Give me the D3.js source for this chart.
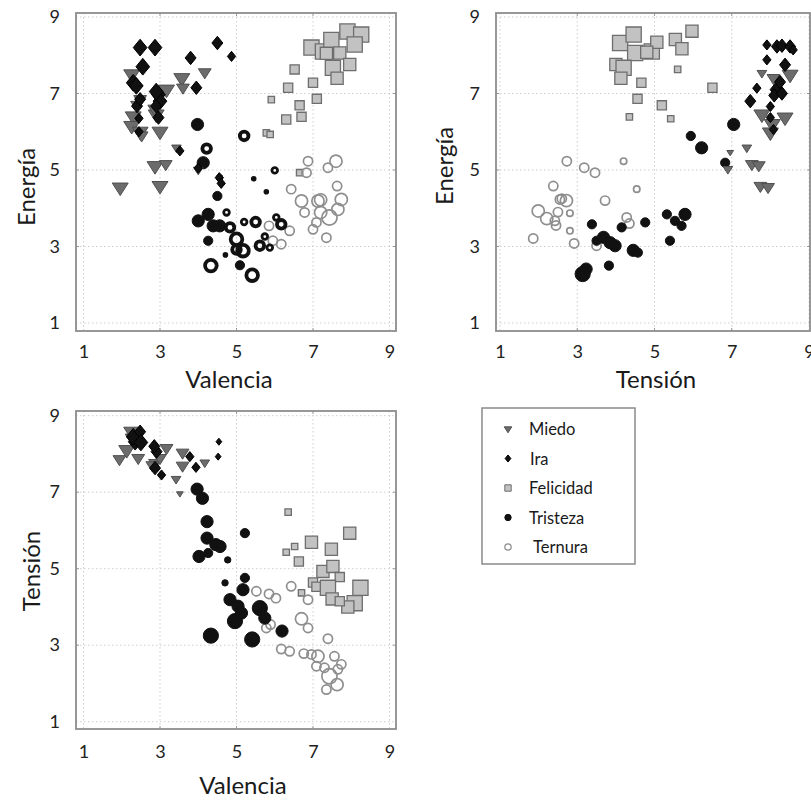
<!DOCTYPE html>
<html><head><meta charset="utf-8">
<script src="https://cdn.jsdelivr.net/npm/d3@7"></script>
<style>body{margin:0;background:#fff}svg{display:block;font-family:Lato,"Open Sans",sans-serif}</style>
</head><body><svg id="c" width="811" height="807"></svg>
<script>
// ---------- DATA: [x, y, size(1-4)] ; Tristeza panel 1 adds hollow flag ----------
const tickValues = [1, 3, 5, 7, 9];
const categories = ["Miedo", "Ira", "Felicidad", "Tristeza", "Ternura"];
const axisNames = ["Valencia", "Energía", "Tensión"];

// Panel 1: Valencia (x) vs Energía (y)
const vaMiedo = [[1.96,4.54,4],[3.0,4.58,4],[2.87,5.1,4],[3.15,5.15,3],[2.26,7.5,4],[2.3,6.4,4],[2.26,6.15,4],[2.48,6.0,4],[2.52,5.9,3],[2.9,6.45,4],[3.0,6.0,4],[3.17,7.1,4],[3.57,7.4,4],[3.6,7.15,3],[4.17,7.55,3],[2.48,6.85,3],[3.43,5.58,2],[4.0,5.0,2],[2.85,6.6,3],[2.4,6.7,3]];
const vaIra = [[2.48,8.2,4],[2.87,8.2,4],[2.55,7.7,4],[2.3,7.28,4],[2.38,7.2,4],[2.96,6.97,4],[3.0,6.8,4],[2.9,6.67,3],[2.4,6.67,3],[2.48,6.85,3],[2.96,6.37,3],[3.8,7.93,3],[3.95,7.15,3],[4.5,8.32,3],[4.87,7.97,2],[3.52,5.5,2],[4.55,4.8,2],[4.6,4.65,2],[4.0,5.05,2],[2.9,7.05,4],[2.45,6.35,2],[2.45,6.0,2]];
const vaFelicidad = [[6.96,8.2,4],[7.26,8.1,4],[7.48,8.4,4],[7.9,8.62,4],[8.26,8.54,4],[8.09,8.28,4],[7.7,8.06,3],[7.52,7.67,4],[7.96,7.76,3],[7.63,7.4,3],[7.35,8.05,3],[6.52,7.63,2],[6.35,7.15,2],[7.0,7.28,2],[5.91,6.84,1],[6.65,6.69,2],[7.1,6.86,2],[6.3,6.32,2],[6.7,6.39,2],[5.78,5.97,1],[5.88,5.93,1],[6.65,4.93,1]];
const vaTristeza = [[3.98,6.19,3,0],[5.2,5.89,3,1],[4.22,5.56,3,1],[4.13,5.19,3,0],[4.56,4.8,1,0],[4.5,4.32,2,0],[5.45,4.77,1,1],[6.0,4.99,2,1],[5.78,4.43,1,1],[4.0,3.67,3,0],[4.26,3.84,3,0],[4.39,3.54,3,0],[4.56,3.54,3,0],[4.74,3.89,2,1],[4.83,3.5,3,1],[5.2,3.64,2,1],[5.5,3.64,3,1],[5.0,3.19,4,1],[5.17,2.89,4,1],[5.0,2.92,3,1],[4.26,3.15,2,0],[4.71,2.78,1,1],[4.33,2.5,4,1],[5.09,2.51,2,0],[5.41,2.25,4,1],[5.61,3.02,3,1],[5.74,3.26,2,1],[5.87,2.97,2,1],[6.04,3.76,2,1],[6.17,3.58,3,1]];
const vaTernura = [[6.87,5.23,2],[6.83,4.93,2],[7.39,5.06,2],[7.6,5.23,3],[6.43,4.5,2],[6.7,4.19,3],[7.13,4.19,3],[7.2,4.22,3],[7.63,4.58,2],[7.74,4.23,3],[6.78,3.89,2],[7.2,3.89,3],[7.65,3.97,3],[7.43,3.76,4],[7.09,3.63,2],[7.0,3.45,2],[7.35,3.23,2],[6.39,3.41,2],[6.17,3.06,2],[5.85,3.54,2],[5.95,3.15,2]];

// Panel 2: Tensión (x) vs Energía (y)
const teMiedo = [[7.78,7.53,2],[8.51,7.49,4],[8.08,7.4,3],[7.78,6.45,4],[8.38,6.37,4],[8.0,5.98,4],[8.05,6.2,4],[7.39,5.58,2],[6.96,5.46,1],[7.52,5.15,3],[7.7,5.12,3],[6.9,5.02,2],[7.74,4.58,3],[7.94,4.55,3]];
const teIra = [[7.91,8.27,2],[8.17,8.23,3],[8.3,8.25,3],[8.51,8.23,3],[8.59,8.14,2],[7.91,7.88,2],[8.38,7.75,3],[7.65,7.14,2],[7.48,6.8,3],[8.17,7.1,4],[8.25,7.3,3],[8.1,6.95,3],[8.0,6.66,2],[8.0,6.37,2],[8.08,6.06,2],[8.3,7.0,3]];
const teFelicidad = [[4.11,8.32,4],[4.46,8.54,4],[4.5,8.06,4],[4.93,8.1,4],[5.06,8.34,3],[5.54,8.41,3],[5.71,8.17,3],[5.97,8.63,3],[4.8,8.08,3],[4.0,7.76,3],[4.2,7.67,4],[4.13,7.4,3],[4.66,7.28,2],[4.56,6.86,2],[5.6,7.63,1],[5.19,6.69,2],[5.42,6.34,1],[4.35,6.39,1],[6.5,7.15,2]];
const teTristeza = [[7.05,6.19,3],[6.22,5.58,3],[5.94,5.89,2],[6.83,5.19,2],[3.38,3.58,2],[3.68,3.24,3],[3.98,3.02,3],[3.85,3.1,3],[4.45,2.9,3],[4.57,2.84,2],[4.15,3.5,2],[4.76,3.63,2],[5.4,3.15,2],[5.32,3.84,2],[5.53,3.67,2],[5.79,3.84,3],[5.7,3.54,2],[3.23,2.41,3],[3.14,2.28,4],[3.82,2.5,2],[3.5,3.15,2]];
const teTernura = [[2.73,5.23,2],[3.18,5.06,2],[3.46,4.93,2],[4.2,5.23,1],[4.54,4.5,1],[2.38,4.58,2],[2.55,4.23,2],[2.72,4.2,3],[3.72,4.2,2],[1.99,3.93,3],[2.21,3.73,3],[2.42,3.67,2],[2.5,3.9,2],[2.81,3.87,1],[2.81,3.41,1],[1.86,3.21,2],[2.92,3.08,2],[4.28,3.76,2],[4.35,3.6,2],[3.5,3.02,2],[2.6,4.25,2],[2.45,3.55,2]];

// Panel 3: Valencia (x) vs Tensión (y)
const vtMiedo = [[1.94,7.86,3],[2.26,8.58,4],[2.43,7.89,3],[2.13,8.1,4],[2.87,7.76,3],[3.17,8.15,3],[3.59,8.03,3],[3.59,7.69,3],[3.42,7.34,2],[3.52,6.96,1],[4.17,7.77,2],[3.0,7.89,3],[2.3,8.4,4],[2.8,7.7,3]];
const vtIra = [[2.35,8.32,4],[2.3,8.45,4],[2.48,8.58,3],[2.91,8.06,3],[2.85,8.2,3],[3.04,7.45,2],[2.87,7.63,3],[3.78,7.93,2],[3.94,7.65,2],[4.54,8.32,1],[4.52,7.93,1],[2.5,8.3,4]];
const vtFelicidad = [[6.35,6.48,1],[6.96,5.69,3],[7.48,5.51,3],[7.96,5.93,3],[6.52,5.58,1],[6.3,5.43,1],[6.63,5.19,2],[7.26,4.93,3],[7.52,5.06,3],[7.7,4.78,2],[7.0,4.64,2],[7.09,4.53,2],[7.39,4.5,4],[7.5,4.21,3],[8.24,4.5,4],[8.09,4.1,4],[7.91,4.0,3],[7.7,4.15,2],[6.7,4.37,1]];
const vtTristeza = [[3.97,7.08,3],[4.11,6.84,3],[4.23,6.23,3],[4.23,5.8,3],[4.46,5.63,3],[4.57,5.58,3],[4.02,5.32,3],[4.26,5.41,2],[5.22,5.93,2],[4.77,5.23,1],[4.7,4.63,1],[5.22,4.76,2],[5.17,4.45,3],[4.83,4.19,3],[5.04,4.02,3],[4.96,3.63,4],[5.13,3.84,3],[4.33,3.25,4],[5.41,3.15,4],[5.61,3.97,4],[5.74,3.71,3],[6.19,3.37,3]];
const vtTernura = [[5.52,4.41,2],[5.85,4.34,2],[6.03,4.23,2],[6.43,4.54,2],[6.87,4.19,2],[6.7,3.69,3],[6.87,3.45,2],[7.39,3.17,2],[6.17,2.9,2],[6.39,2.84,2],[6.76,2.78,2],[6.96,2.76,2],[7.13,2.71,3],[7.09,2.45,2],[7.3,2.41,2],[7.56,2.71,2],[7.65,2.37,2],[7.74,2.5,2],[7.43,2.19,4],[7.63,1.97,3],[7.35,1.84,2],[5.78,3.45,2],[5.89,3.54,2]];

// ---------- STYLE / LAYOUT ----------
const svg = d3.select("#c");
const rad = {1:3.2, 2:4.6, 3:6.1, 4:7.6};
const style = {
  Miedo:    {fill:"#6c6c6c", stroke:"#4f4f4f", sw:1},
  Ira:      {fill:"#111", stroke:"#000", sw:1},
  Felicidad:{fill:"#c2c2c2", stroke:"#6e6e6e", sw:1.3},
  Tristeza: {fill:"#111", stroke:"#111", sw:1},
  Ternura:  {fill:"none", stroke:"#8e8e8e", sw:1.7}
};
function shapePath(cat, r) {
  if (cat === "Miedo") { const w = r*1.05; return `M${-w},${-0.6*r}L${w},${-0.6*r}L0,${1.05*r}Z`; }
  if (cat === "Ira") { const w = r*0.9, h = r*1.1; return `M0,${-h}L${w},0L0,${h}L${-w},0Z`; }
  if (cat === "Felicidad") { return `M${-r},${-r}h${2*r}v${2*r}h${-2*r}Z`; }
  const p = d3.path(); p.arc(0, 0, r, 0, 2*Math.PI); return p.toString();
}

const panels = [
  {xr:[83.5,389.5], yr:[323,17], frame:[76,13,396,331], xlab:axisNames[0], ylab:axisNames[1],
   xl:[229,378], yl:[25,187], tickOffX:22,
   series:{Felicidad:vaFelicidad, Ternura:vaTernura, Tristeza:vaTristeza, Miedo:vaMiedo, Ira:vaIra}},
  {xr:[500,809], yr:[323,17], frame:[496,13,810,331], xlab:axisNames[2], ylab:axisNames[1],
   xl:[656,378], yl:[443,166], tickOffX:22,
   series:{Felicidad:teFelicidad, Ternura:teTernura, Tristeza:teTristeza, Miedo:teMiedo, Ira:teIra}},
  {xr:[83.5,389.5], yr:[721.7,415.7], frame:[76,411,396,729], xlab:axisNames[0], ylab:axisNames[2],
   xl:[243,784], yl:[30,571], tickOffX:24,
   series:{Felicidad:vtFelicidad, Ternura:vtTernura, Tristeza:vtTristeza, Miedo:vtMiedo, Ira:vtIra}}
];

panels.forEach((p, i) => {
  const x = d3.scaleLinear().domain([1, 9]).range(p.xr);
  const y = d3.scaleLinear().domain([1, 9]).range(p.yr);
  const [fx0, fy0, fx1, fy1] = p.frame;
  const g = svg.append("g");
  g.append("g").selectAll("line").data(tickValues).join("line")
    .attr("x1", d => x(d)).attr("x2", d => x(d)).attr("y1", fy0).attr("y2", fy1)
    .attr("stroke", "#cfcfcf").attr("stroke-width", 1).attr("stroke-dasharray", "1.5,2.5");
  g.append("g").selectAll("line").data(tickValues).join("line")
    .attr("y1", d => y(d)).attr("y2", d => y(d)).attr("x1", fx0).attr("x2", fx1)
    .attr("stroke", "#cfcfcf").attr("stroke-width", 1).attr("stroke-dasharray", "1.5,2.5");
  [fy0, fy1].forEach((yy, k) => g.append("g").selectAll("line").data(tickValues.slice(1, 4)).join("line")
    .attr("x1", d => x(d)).attr("x2", d => x(d)).attr("y1", yy).attr("y2", yy + (k ? -3 : 3))
    .attr("stroke", "#999"));
  [fx0, fx1].forEach((xx, k) => g.append("g").selectAll("line").data(tickValues.slice(1, 4)).join("line")
    .attr("y1", d => y(d)).attr("y2", d => y(d)).attr("x1", xx).attr("x2", xx + (k ? -3 : 3))
    .attr("stroke", "#999"));
  g.append("rect").attr("x", fx0).attr("y", fy0).attr("width", fx1 - fx0).attr("height", fy1 - fy0)
    .attr("fill", "none").attr("stroke", "#8d8d8d").attr("stroke-width", 1.8);
  const ax = g.append("g").attr("transform", `translate(0,${fy1})`)
    .call(d3.axisBottom(x).tickValues(tickValues).tickSize(0).tickPadding(p.tickOffX - 8));
  const ay = g.append("g").attr("transform", `translate(${fx0},0)`)
    .call(d3.axisLeft(y).tickValues(tickValues).tickSize(0).tickPadding(16));
  [ax, ay].forEach(a => { a.select(".domain").remove();
    a.selectAll("text").attr("font-family", "Lato, sans-serif").attr("font-size", 18).attr("fill", "#222"); });
  g.append("text").attr("x", p.xl[0]).attr("y", p.xl[1]).attr("text-anchor", "middle")
    .attr("dominant-baseline", "central").attr("font-size", 24).attr("fill", "#1a1a1a").text(p.xlab);
  g.append("text").attr("transform", `translate(${p.yl[0]},${p.yl[1]}) rotate(-90)`).attr("text-anchor", "middle")
    .attr("dominant-baseline", "central").attr("font-size", 24).attr("fill", "#1a1a1a").text(p.ylab);
  const clipId = "clip" + i;
  svg.append("clipPath").attr("id", clipId).append("rect").attr("x", fx0).attr("y", fy0)
    .attr("width", fx1 - fx0).attr("height", fy1 - fy0);
  const mg = g.append("g").attr("clip-path", `url(#${clipId})`);
  ["Felicidad", "Ternura", "Tristeza", "Miedo", "Ira"].forEach(cat => {
    const st = style[cat];
    mg.append("g").selectAll("path").data(p.series[cat]).join("path")
      .attr("transform", d => `translate(${x(d[0])},${y(d[1])})`)
      .attr("d", d => shapePath(cat, d[3] ? rad[d[2]] - 1.8 : rad[d[2]]))
      .attr("fill", d => d[3] ? "none" : st.fill)
      .attr("stroke", st.stroke)
      .attr("stroke-width", d => d[3] ? (d[2] >= 3 ? 3.8 : 2.8) : st.sw);
  });
});

// legend
const lg = svg.append("g");
lg.append("rect").attr("x", 482).attr("y", 408).attr("width", 153).attr("height", 156)
  .attr("fill", "#fff").attr("stroke", "#8a8a8a").attr("stroke-width", 1.5);
const ly = d3.scalePoint().domain(categories).range([429, 547]);
categories.forEach(cat => {
  const st = style[cat];
  lg.append("path").attr("transform", `translate(508,${ly(cat)})`)
    .attr("d", shapePath(cat, cat === "Miedo" ? 3.6 : 3.2))
    .attr("fill", st.fill).attr("stroke", st.stroke).attr("stroke-width", cat === "Ternura" ? 1.2 : 1);
  lg.append("text").attr("x", cat === "Ternura" ? 533 : (cat === "Ira" ? 530 : 529)).attr("y", ly(cat))
    .attr("dominant-baseline", "central").attr("font-size", 16.5).attr("fill", "#1a1a1a").text(cat);
});
</script></body></html>
